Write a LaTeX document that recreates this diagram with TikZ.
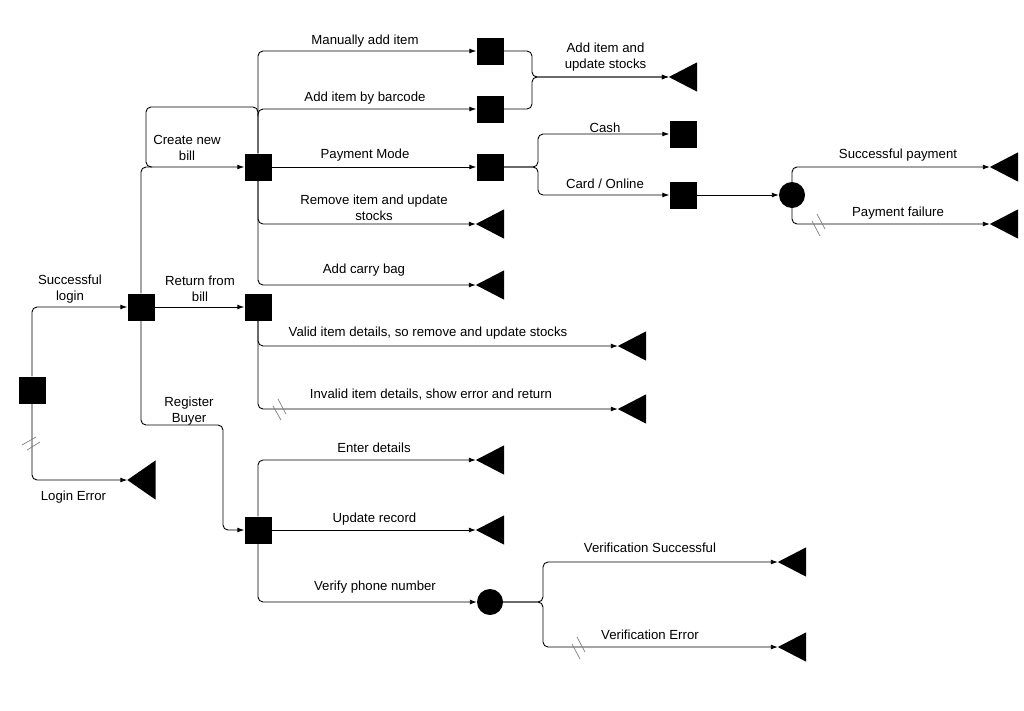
\documentclass[tikz,border=0pt]{standalone}
\usepackage{fontspec}
\setmainfont{Liberation Sans}
\usetikzlibrary{arrows.meta}
\begin{document}
\begin{tikzpicture}[x=1pt,y=-1pt,
  sq/.style={rectangle,fill=black,minimum size=27pt,inner sep=0pt},
  dot/.style={circle,fill=black,minimum size=26pt,inner sep=0pt},
  tri/.style={rectangle,minimum width=28pt,minimum height=29pt,inner sep=0pt},
  flow/.style={draw=black,line width=0.9pt,rounded corners=5pt,-{Latex[length=7pt,width=5pt]}},
  plain/.style={draw=black,line width=0.9pt,rounded corners=5pt},
  lbl/.style={font=\fontsize{13.2pt}{15.5pt}\selectfont,align=center,inner sep=0pt},
  brk/.style={draw=gray,line width=0.7pt}]
\useasboundingbox (0,0) rectangle (1024,710);
\fill[white] (0,0) rectangle (1024,710);

% state boxes
\node[sq] (login) at (32,390) {};
\node[sq] (main) at (141,307) {};
\node[sq] (ret) at (258,307) {};
\node[sq] (bill) at (258,167) {};
\node[sq] (man) at (490,51) {};
\node[sq] (bar) at (490,109) {};
\node[sq] (pay) at (490,167) {};
\node[sq] (cash) at (683,134) {};
\node[sq] (card) at (683,195) {};
\node[sq] (reg) at (258,530) {};

% decision points
\node[dot] (cpay) at (792,195) {};
\node[dot] (cver) at (490,602) {};

% end points (left-pointing triangles)
\node[tri,minimum height=39pt] (lerr) at (141.5,480) {};
\node[tri] (stock) at (683,77) {};
\node[tri] (rem) at (490,224) {};
\node[tri] (bag) at (490,285) {};
\node[tri] (valid) at (632,346) {};
\node[tri] (invalid) at (632,409) {};
\node[tri] (psucc) at (1004,167) {};
\node[tri] (pfail) at (1004,224) {};
\node[tri] (enter) at (490,460) {};
\node[tri] (upd) at (490,530) {};
\node[tri] (vsucc) at (792,562) {};
\node[tri] (verr) at (792,647) {};
\foreach \t in {lerr,stock,rem,bag,valid,invalid,psucc,pfail,enter,upd,vsucc,verr}
  \fill[black] (\t.north east) -- (\t.south east) -- (\t.west) -- cycle;

% junction points
\coordinate (jstock) at (532,77);
\coordinate (jpay) at (538,167);
\coordinate (jver) at (543,602);
\coordinate (rb1) at (141,425);
\coordinate (rb2) at (223,425);
\coordinate (rb3) at (223,530);

% connectors
\draw[flow] (login.north) |- (main.west);
\draw[flow] (login.south) |- (lerr.west);
\draw[flow] (main.east) -- (ret.west);
\draw[flow] (main.north) |- (bill.west);
\draw[plain] (152,167) -- (146,167) -- (146,107) -- (258,107) -- (258,116);
\draw[flow] (main.south) -- (rb1) -- (rb2) -- (rb3) -- (reg.west);

\draw[flow] (bill.north) |- (man.west);
\draw[flow] (bill.north) |- (bar.west);
\draw[flow] (bill.east) -- (pay.west);
\draw[flow] (bill.south) |- (rem.west);
\draw[flow] (bill.south) |- (bag.west);

\draw[flow] (man.east) -| (jstock) -- (stock.west);
\draw[flow] (bar.east) -| (jstock) -- (stock.west);
\draw[flow] (pay.east) -- (jpay) |- (cash.west);
\draw[flow] (pay.east) -- (jpay) |- (card.west);
\draw[flow] (card.east) -- (cpay.west);
\draw[flow] (cpay.north) |- (psucc.west);
\draw[flow] (cpay.south) |- (pfail.west);

\draw[flow] (ret.south) |- (valid.west);
\draw[flow] (ret.south) |- (invalid.west);

\draw[flow] (reg.north) |- (enter.west);
\draw[flow] (reg.east) -- (upd.west);
\draw[flow] (reg.south) |- (cver.west);
\draw[flow] (cver.east) -- (jver) |- (vsucc.west);
\draw[flow] (cver.east) -- (jver) |- (verr.west);

% break marks on the failure branches
\draw[brk] (22,445) -- (36,437) (27,450) -- (40,442);
\draw[brk] (278,399) -- (286,414) (273,406) -- (281,420);
\draw[brk] (817,214) -- (825,229) (812,221) -- (820,236);
\draw[brk] (577,637) -- (585,652) (572,644) -- (580,659);

% labels
\node[lbl] (l1) at (70,289) {Successful\\login};
\node[lbl] (l2) at (73.5,497) {Login Error};
\node[lbl] (l3) at (200,289) {Return from\\bill};
\node[lbl] (l4) at (189,411) {Register\\Buyer};
\node[lbl] (l5) at (187,148) {Create new\\bill};
\node[lbl] (l6) at (365,41.5) {Manually add item};
\node[lbl] (l7) at (365,98) {Add item by barcode};
\node[lbl] (l8) at (365,155) {Payment Mode};
\node[lbl] (l9) at (374,208) {Remove item and update\\stocks};
\node[lbl] (l10) at (364,270) {Add carry bag};
\node[lbl] (l11) at (605.5,57) {Add item and\\update stocks};
\node[lbl] (l12) at (605,127.5) {Cash};
\node[lbl] (l13) at (605,184) {Card / Online};
\node[lbl] (l14) at (898,155) {Successful payment};
\node[lbl] (l15) at (898,213) {Payment failure};
\node[lbl] (l16) at (428,333) {Valid item details, so remove and update stocks};
\node[lbl] (l17) at (431,395) {Invalid item details, show error and return};
\node[lbl] (l18) at (374,447.5) {Enter details};
\node[lbl] (l19) at (374.5,519) {Update record};
\node[lbl] (l20) at (375,587.5) {Verify phone number};
\node[lbl] (l21) at (650,547.5) {Verification Successful};
\node[lbl] (l22) at (650,635) {Verification Error};
\end{tikzpicture}
\end{document}
